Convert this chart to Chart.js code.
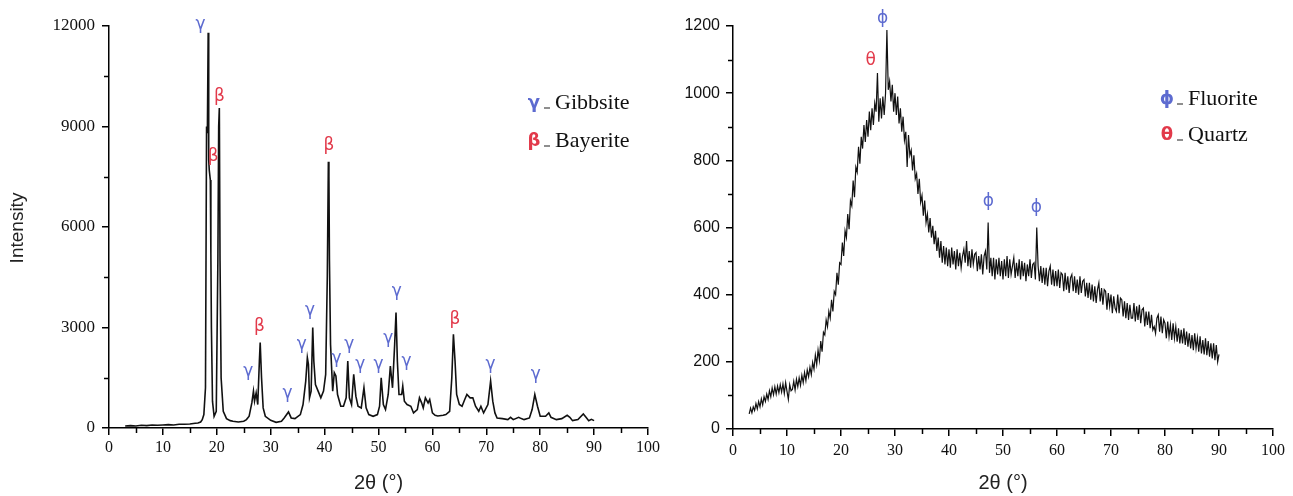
<!DOCTYPE html>
<html><head><meta charset="utf-8">
<script src="https://cdn.jsdelivr.net/npm/chart.js@4.4.1/dist/chart.umd.min.js"></script>
<style>
html,body{margin:0;padding:0;background:#fff;width:1293px;height:496px;overflow:hidden;}
#c1{position:absolute;left:0;top:0;}
#c2{position:absolute;left:665px;top:0;}
</style></head><body>
<canvas id="c1" width="665" height="496"></canvas>
<canvas id="c2" width="628" height="496"></canvas>
<script>
// ---------- Left pattern (Gibbsite / Bayerite) ----------
const leftAngle = [
 3,4,5,6,7,8,9,10,11,12,
 13,14,15,16,16.5,17,17.3,17.6,17.9,18.1,
 18.25,18.4,18.5,18.6,18.8,18.9,19.0,19.2,19.5,19.9,
 20.2,20.35,20.47,20.6,20.8,21.2,21.8,22.5,23,24,
 25,25.5,26,26.5,26.8,27.0,27.3,27.6,27.9,28.05,
 28.3,28.6,29,30,31,32,32.5,33.3,33.8,34.5,
 35.5,36,36.5,36.8,37.0,37.2,37.5,37.8,38.0,38.3,
 38.8,39.3,39.8,40.2,40.5,40.7,40.8,40.9,41.1,41.5,
 41.8,42.1,42.4,43,43.5,44,44.3,44.6,45,45.4,
 45.8,46.2,46.8,47.3,47.7,48.2,49,49.8,50.2,50.5,
 50.9,51.3,51.8,52.2,52.6,53.0,53.25,53.5,53.8,54.3,
 54.5,54.8,55.3,56,56.5,57.2,57.6,58,58.3,58.7,
 59.2,59.5,60,60.5,61,62,62.5,63.2,63.6,63.9,
 64.2,64.5,65,65.5,66,66.4,67,67.5,68,68.6,
 69,69.5,70.3,70.8,71.2,71.6,72,73,74,74.5,
 75,76,76.5,77,78,78.5,79,79.5,80,81,
 81.6,82,83,84,85,85.5,86,87,88,88.5,
 89,89.5,90
];
const leftIntensity = [
 60,70,60,80,70,90,80,90,100,90,
 110,110,120,140,150,180,250,400,1200,9000,
 8800,11800,8000,7700,7400,5200,3000,800,350,500,
 5000,9000,9550,5000,1500,500,280,220,200,180,
 200,250,350,750,1100,800,1050,700,2000,2550,
 1500,600,350,230,170,200,300,480,300,280,
 400,700,1400,2100,1900,900,1100,3000,2000,1300,
 1100,900,1100,1600,4500,7950,7500,5000,2500,1100,
 1650,1550,1000,650,650,900,2000,900,700,1600,
 950,650,600,1200,600,400,350,400,650,1500,
 700,550,1000,1850,1200,2500,3450,2000,1000,1000,
 1250,800,700,650,450,550,900,750,600,900,
 750,850,450,380,360,380,400,500,1500,2800,
 2000,1000,700,650,850,1000,900,900,650,500,
 650,450,700,1400,800,450,300,280,250,320,
 250,320,280,250,300,550,1000,650,350,350,
 450,320,250,280,380,320,220,250,420,320,
 220,260,220
];
const leftMarkAngle  = [17.0, 19.35, 20.47, 25.85, 27.9, 33.1, 35.75, 37.3, 40.8, 42.2, 44.6, 46.6, 50.0, 51.8, 53.4, 55.2, 64.2, 70.8, 79.2];
const leftMarkLevel  = [12030, 8100, 9890, 1680, 3025, 1035, 2480, 3520, 8430, 2080, 2480, 1880, 1880, 2680, 4070, 1980, 3225, 1880, 1580];
const leftMarkSymbol = ['γ','β','β','γ','β','γ','γ','γ','β','γ','γ','γ','γ','γ','γ','γ','β','γ','γ'];

// ---------- Right pattern (Fluorite / Quartz) ----------
const rightStartAngle = 3;
const rightAngleStep = 0.25;
const rightIntensity = [
 45,62,48,66, 55,76,60,82, 66,90,72,96, 82,104,88,114, 96,122,102,126,
 104,128,108,132, 110,134,106,138, 112,88,132,114, 118,142,116,148, 126,152,130,160,
 138,168,144,176, 156,184,162,198, 178,220,192,235, 205,262,230,288, 280,325,305,350,
 330,385,350,410, 400,465,430,495, 490,555,515,590, 570,640,595,680, 665,740,690,780,
 765,840,790,870, 835,905,855,920, 870,945,890,955, 905,970,945,1060, 915,985,925,990,
 935,1000,1188,1010, 1035,975,1025,945, 1000,935,990,910, 955,885,930,860, 885,780,875,815,
 830,770,815,745, 760,700,745,675, 695,635,680,615, 640,585,628,570, 605,550,590,530,
 570,510,560,495, 545,490,540,485, 535,480,540,490, 530,475,535,485, 525,480,515,535,
 495,560,485,530, 480,535,490,520, 525,470,515,475, 520,460,515,530, 475,615,465,510,
 455,510,445,505, 460,510,455,500, 445,505,455,515, 450,505,460,485, 510,450,495,455,
 505,445,500,455, 495,440,490,455, 505,450,490,495, 445,600,485,440, 485,435,480,430,
 480,425,470,485, 430,475,425,470, 425,475,420,465, 460,410,465,415, 455,405,450,460,
 410,455,405,445, 400,455,405,440, 445,395,435,390, 435,385,430,380, 425,375,415,435,
 380,420,370,415, 410,355,405,365, 400,345,395,360, 350,400,345,390, 385,335,380,330,
 375,325,370,330, 330,375,320,365, 325,370,315,355, 360,305,350,310, 350,300,340,295,
 305,285,330,340, 290,335,285,325, 315,270,320,275, 310,265,315,270, 305,260,300,255,
 295,255,300,250, 290,245,285,240, 280,235,285,240, 272,230,276,225, 265,222,270,220,
 262,215,255,210, 255,205,250,200,
 222
];
const rightMarkAngle  = [27.7, 25.5, 47.3, 56.2];
const rightMarkLevel  = [1222, 1098, 676, 660];
const rightMarkSymbol = ['ϕ','θ','ϕ','ϕ'];

const xTitle = '2θ (°)';
const yTitle = 'Intensity';
const leftLegend  = [['γ','Gibbsite'],['β','Bayerite']];
const rightLegend = [['ϕ','Fluorite'],['θ','Quartz']];

// ---------- styling / drawing ----------
const BLUE = '#5d6bd0', RED = '#e2394a';
const symColor = s => (s === 'γ' || s === 'ϕ') ? BLUE : RED;

const decor = {
  id: 'decor',
  afterDraw(chart, args, o) {
    const ctx = chart.ctx, x = chart.scales.x, y = chart.scales.y;
    ctx.save();
    // minor ticks
    ctx.strokeStyle = '#000'; ctx.lineWidth = 1.5;
    for (let v = x.min + o.xMinor; v < x.max; v += o.xMinor * 2) {
      const p = Math.round(x.getPixelForValue(v)) + 0.5;
      ctx.beginPath(); ctx.moveTo(p, y.bottom); ctx.lineTo(p, y.bottom + 5); ctx.stroke();
    }
    for (let v = y.min + o.yMinor; v < y.max; v += o.yMinor * 2) {
      const p = Math.round(y.getPixelForValue(v)) + 0.5;
      ctx.beginPath(); ctx.moveTo(x.left - 5, p); ctx.lineTo(x.left, p); ctx.stroke();
    }
    // peak marks
    ctx.textAlign = 'center'; ctx.textBaseline = 'middle';
    ctx.font = '17px "DejaVu Sans"';
    o.markAngle.forEach((a, i) => {
      const s = o.markSymbol[i];
      ctx.fillStyle = symColor(s);
      ctx.fillText(s, x.getPixelForValue(a), y.getPixelForValue(o.markLevel[i]));
    });
    // legend
    o.legend.forEach((it, i) => {
      const ly = o.legendPos.y + i * o.legendPos.dy;
      ctx.textAlign = 'center';
      ctx.font = 'bold 18px "DejaVu Sans"';
      ctx.fillStyle = symColor(it[0]);
      ctx.fillText(it[0], o.legendPos.x, ly);
      ctx.strokeStyle = '#444'; ctx.lineWidth = 1.2;
      ctx.beginPath(); ctx.moveTo(o.legendPos.x + 10, ly + 5); ctx.lineTo(o.legendPos.x + 16, ly + 5); ctx.stroke();
      ctx.textAlign = 'left';
      ctx.font = '22px "Liberation Serif"';
      ctx.fillStyle = '#111';
      ctx.fillText(it[1], o.legendPos.x + 21, ly);
    });
    // axis titles
    ctx.fillStyle = '#222';
    ctx.textAlign = 'center';
    ctx.font = '20px "Liberation Sans"';
    ctx.fillText(xTitle, (x.left + x.right) / 2, 483);
    if (o.yTitle) {
      ctx.translate(o.yTitle.x, o.yTitle.y);
      ctx.rotate(-Math.PI / 2);
      ctx.font = '19px "Liberation Sans"';
      ctx.fillText(yTitle, 0, 0);
    }
    ctx.restore();
  }
};

function makeScales(cfg) {
  return {
    x: {
      type: 'linear', min: 0, max: 100,
      ticks: { stepSize: 10, color: '#111', padding: cfg.xPad, font: { family: 'Liberation Serif', size: 16 }, callback: v => String(v) },
      grid: { drawOnChartArea: false, drawTicks: true, tickLength: 7, color: '#000', lineWidth: 1.5 },
      border: { display: true, color: '#000', width: 1.5 },
      afterFit: s => { s.height = cfg.xHeight; }
    },
    y: {
      type: 'linear', min: 0, max: cfg.yMax,
      ticks: { stepSize: cfg.yStep, color: '#111', padding: cfg.yPad, font: { family: cfg.yFont, size: cfg.yFontSize }, callback: v => String(v) },
      grid: { drawOnChartArea: false, drawTicks: true, tickLength: 7, color: '#000', lineWidth: 1.5 },
      border: { display: true, color: '#000', width: 1.5 },
      afterFit: s => { s.width = cfg.yWidth; }
    }
  };
}

new Chart(document.getElementById('c1'), {
  type: 'line',
  data: { datasets: [{
    data: leftAngle.map((a, i) => ({ x: a, y: leftIntensity[i] })),
    borderColor: '#111', borderWidth: 1.6, pointRadius: 0, tension: 0, fill: false
  }]},
  options: {
    responsive: false, animation: false, devicePixelRatio: 1,
    layout: { padding: { left: 0, top: 26, right: 17, bottom: 0 } },
    plugins: { legend: { display: false }, tooltip: { enabled: false },
      decor: { xMinor: 5, yMinor: 1500, markAngle: leftMarkAngle, markLevel: leftMarkLevel, markSymbol: leftMarkSymbol,
               legend: leftLegend, legendPos: { x: 534, y: 103, dy: 38 }, yTitle: { x: 18, y: 228 } } },
    scales: makeScales({ xPad: 3, xHeight: 68, yMax: 12000, yStep: 3000, yPad: 7, yFont: 'Liberation Serif', yFontSize: 17, yWidth: 109 })
  },
  plugins: [decor]
});

new Chart(document.getElementById('c2'), {
  type: 'line',
  data: { datasets: [{
    data: rightIntensity.map((v, i) => ({ x: rightStartAngle + i * rightAngleStep, y: v })),
    borderColor: '#111', borderWidth: 1.2, pointRadius: 0, tension: 0, fill: false
  }]},
  options: {
    responsive: false, animation: false, devicePixelRatio: 1,
    layout: { padding: { left: 0, top: 26, right: 20, bottom: 0 } },
    plugins: { legend: { display: false }, tooltip: { enabled: false },
      decor: { xMinor: 5, yMinor: 100, markAngle: rightMarkAngle, markLevel: rightMarkLevel, markSymbol: rightMarkSymbol,
               legend: rightLegend, legendPos: { x: 502, y: 99, dy: 36 }, yTitle: null } },
    scales: makeScales({ xPad: 5, xHeight: 67, yMax: 1200, yStep: 200, yPad: 6, yFont: 'Liberation Sans', yFontSize: 16, yWidth: 68 })
  },
  plugins: [decor]
});
</script>
</body></html>
